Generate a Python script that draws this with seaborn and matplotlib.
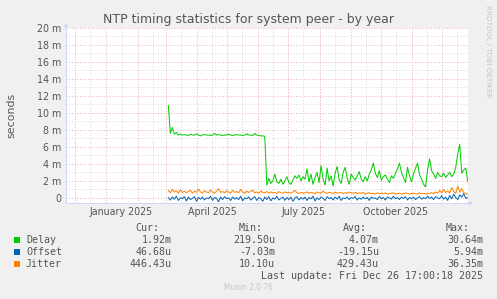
import numpy as np
import pandas as pd
import matplotlib
matplotlib.use("Agg")
import matplotlib.pyplot as plt
import matplotlib.dates as mdates
from matplotlib.patches import Rectangle
from matplotlib.ticker import FixedLocator, FuncFormatter
import seaborn as sns

# ---------------- data ----------------
series_names = ["Delay", "Offset", "Jitter"]
series_colors = ["#00CC00", "#0066B3", "#FF8000"]
start_date = "2025-03-03"
step = "2D"
view_start = "2024-11-21 17:00"
view_end = "2025-12-26 17:00"

delay_ms = [
    10.9, 7.6, 8.3, 7.5, 7.7, 7.4, 7.5, 7.4, 7.45, 7.4,
    7.35, 7.5, 7.4, 7.4, 7.55, 7.4, 7.3, 7.4, 7.45, 7.4,
    7.4, 7.35, 7.4, 7.6, 7.4, 7.45, 7.4, 7.35, 7.4, 7.4,
    7.5, 7.4, 7.35, 7.4, 7.45, 7.4, 7.4, 7.35, 7.4, 7.55,
    7.4, 7.4, 7.35, 7.6, 7.4, 7.35, 7.3, 7.3, 7.25, 1.5,
    2.3, 1.7, 2.0, 2.8, 1.9, 1.7, 2.2, 1.6, 2.0, 2.5,
    1.8, 1.6, 2.1, 2.6, 2.3, 2.7, 2.0, 2.5, 2.2, 3.4,
    1.9, 2.8, 1.6, 2.4, 3.0, 1.8, 3.8, 2.2, 1.5, 3.5,
    2.0, 2.6, 1.4, 2.9, 3.7, 2.1, 1.7, 3.0, 3.6, 2.3,
    1.6, 2.8, 2.4, 2.1, 2.6, 3.1, 2.2, 1.9, 2.5, 2.0,
    2.8, 3.3, 4.1, 2.9, 2.4, 3.2, 2.1, 2.5, 2.7, 2.2,
    1.8, 2.6, 2.3, 2.9, 3.4, 4.1, 3.0, 2.4, 1.8, 3.6,
    2.6, 1.9, 2.8, 3.5, 4.1, 2.7, 2.2, 1.6, 1.3, 3.3,
    4.6, 3.2, 2.8, 2.3, 3.0, 2.6, 2.5, 2.9, 2.4, 2.7,
    3.0, 2.5, 2.8, 3.6, 5.2, 6.3, 2.9, 3.3, 3.5, 1.92,
]

offset_ms = [
    0.05, -0.25, 0.1, -0.15, 0.2, -0.3, 0.0, -0.1, 0.15, -0.35,
    0.1, -0.2, -0.05, 0.15, -0.4, 0.05, -0.15, 0.1, -0.25, 0.0,
    -0.1, 0.2, -0.3, 0.05, -0.05, -0.45, 0.1, -0.2, 0.15, -0.1,
    0.0, -0.3, 0.1, -0.15, 0.05, -0.2, 0.2, -0.35, 0.0, -0.1,
    0.1, -0.25, -0.05, 0.15, -0.3, 0.05, -0.1, -0.4, 0.1, -0.2,
    0.15, -0.35, 0.0, -0.15, 0.2, -0.25, -0.05, 0.1, -0.3, 0.05,
    -0.2, 0.1, -0.4, 0.0, 0.15, -0.25, 0.05, -0.15, 0.1, -0.3,
    0.05, -0.1, 0.2, -0.35, 0.0, -0.2, 0.1, -0.05, -0.3, 0.15,
    -0.1, 0.05, -0.25, 0.1, -0.15, 0.2, -0.3, 0.0, -0.1, 0.1,
    -0.2, 0.05, -0.05, 0.15, -0.25, 0.0, -0.15, 0.1, -0.1, 0.05,
    -0.3, 0.1, -0.05, 0.0, -0.2, 0.15, -0.1, 0.05, -0.25, 0.1,
    0.0, -0.15, 0.2, -0.1, 0.05, -0.2, 0.1, -0.05, 0.15, -0.25,
    0.05, -0.1, 0.1, -0.2, 0.0, 0.15, -0.15, 0.05, -0.1, 0.2,
    -0.05, 0.1, -0.2, 0.15, 0.0, -0.1, 0.25, -0.15, 0.1, -0.3,
    0.3, -0.1, 0.45, 0.05, -0.2, 0.35, 0.1, 0.5, -0.05, 0.05,
]

jitter_ms = [
    0.9, 0.6, 1.0, 0.7, 0.85, 0.55, 0.95, 0.65, 0.8, 0.6,
    0.75, 0.9, 0.55, 0.8, 0.65, 1.05, 0.7, 0.6, 0.85, 0.7,
    0.6, 0.95, 0.7, 0.55, 0.8, 1.1, 0.65, 0.75, 0.6, 0.85,
    0.7, 0.55, 0.9, 0.65, 0.75, 0.6, 1.0, 0.7, 0.55, 0.8,
    0.65, 0.75, 0.9, 0.6, 0.7, 0.55, 0.8, 0.65, 0.6, 0.75,
    0.55, 0.7, 0.6, 0.65, 0.5, 0.75, 0.6, 0.55, 0.7, 0.6,
    0.65, 0.55, 0.7, 0.9, 0.6, 0.5, 0.65, 0.55, 0.6, 0.7,
    0.55, 0.65, 0.6, 0.5, 0.7, 0.6, 0.55, 0.8, 0.6, 0.55,
    0.65, 0.6, 0.5, 0.7, 0.55, 0.6, 0.65, 0.5, 0.6, 0.55,
    0.7, 0.6, 0.55, 0.65, 0.5, 0.6, 0.55, 0.65, 0.45, 0.55,
    0.6, 0.5, 0.55, 0.45, 0.6, 0.5, 0.55, 0.5, 0.6, 0.45,
    0.5, 0.55, 0.6, 0.45, 0.5, 0.55, 0.45, 0.5, 0.6, 0.5,
    0.45, 0.5, 0.55, 0.5, 0.45, 0.6, 0.5, 0.55, 0.45, 0.5,
    0.55, 0.6, 0.5, 0.7, 0.55, 0.9, 0.6, 1.0, 0.65, 0.8,
    0.6, 1.2, 0.75, 0.55, 1.4, 0.7, 1.1, 0.6, 0.5, 0.45,
]

legend_cur = ["1.92m", "46.68u", "446.43u"]
legend_min = ["219.50u", "-7.03m", "10.10u"]
legend_avg = ["4.07m", "-19.15u", "429.43u"]
legend_max = ["30.64m", "5.94m", "36.35m"]
legend_headers = ["Cur:", "Min:", "Avg:", "Max:"]

y_major = [0, 2, 4, 6, 8, 10, 12, 14, 16, 18, 20]
y_minor = [1, 3, 5, 7, 9, 11, 13, 15, 17, 19]
x_label_months = {1: "January 2025", 4: "April 2025", 7: "July 2025", 10: "October 2025"}

title = "NTP timing statistics for system peer - by year"
last_update = "Last update: Fri Dec 26 17:00:18 2025"

# ---------------- figure ----------------
W, H = 497, 299
DPI = 72
sns.set_style("white")
plt.rcParams["font.family"] = ["DejaVu Sans"]

fig = plt.figure(figsize=(W / DPI, H / DPI), dpi=DPI, facecolor="#F0F0F0")
ax_l, ax_r, ax_t, ax_b = 66, 468, 28, 203
ax = fig.add_axes([ax_l / W, 1 - ax_b / H, (ax_r - ax_l) / W, (ax_b - ax_t) / H])
ax.set_facecolor("white")

dates = pd.date_range(start_date, periods=len(delay_ms), freq=step) + pd.Timedelta(hours=12)
frames = []
for name, vals in zip(series_names, [delay_ms, offset_ms, jitter_ms]):
    frames.append(pd.DataFrame({"date": dates, "value": vals, "series": name}))
df = pd.concat(frames, ignore_index=True)

sns.lineplot(data=df, x="date", y="value", hue="series", hue_order=series_names,
             palette=dict(zip(series_names, series_colors)), linewidth=1.0,
             legend=False, ax=ax, zorder=3)

ax.set_xlim(pd.Timestamp(view_start), pd.Timestamp(view_end))
ax.set_ylim(-0.6, 20)
ax.set_xlabel("")
ax.set_ylabel("seconds", fontsize=11, color="#555555")
ax.yaxis.set_label_coords((16 - ax_l) / (ax_r - ax_l), 0.5)

# y ticks
ax.yaxis.set_major_locator(FixedLocator(y_major))
ax.yaxis.set_minor_locator(FixedLocator(y_minor))
ax.yaxis.set_major_formatter(FuncFormatter(lambda v, p: "0" if v == 0 else f"{v:g} m"))
# x ticks: month starts (major) and mid-month (minor)
ax.xaxis.set_major_locator(mdates.MonthLocator(bymonthday=1))
ax.xaxis.set_minor_locator(mdates.MonthLocator(bymonthday=16))
ax.xaxis.set_major_formatter(FuncFormatter(lambda v, p: ""))

def minor_fmt(v, p):
    d = mdates.num2date(v)
    return x_label_months.get(d.month, "") if d.year == 2025 else ""
ax.xaxis.set_minor_formatter(FuncFormatter(minor_fmt))

ax.tick_params(axis="y", which="major", length=2, width=1, color="#E8A0A0",
               labelsize=9.5, labelcolor="#555555", pad=3)
ax.tick_params(axis="y", which="minor", length=2, width=1, color="#D8D8D8")
ax.tick_params(axis="x", which="major", length=3, width=1, color="#E8A0A0")
ax.tick_params(axis="x", which="minor", length=2, width=1, color="#D8D8D8",
               labelsize=9.5, labelcolor="#555555", pad=2)

ax.grid(True, which="major", axis="both", color="#EBA4A4", linestyle=(0, (1, 2)), linewidth=0.9, zorder=1)
ax.grid(True, which="minor", axis="both", color="#D4D4D4", linestyle=(0, (1, 2)), linewidth=0.9, zorder=1)
ax.set_axisbelow(True)

for s in ["top", "right"]:
    ax.spines[s].set_visible(False)
for s in ["left", "bottom"]:
    ax.spines[s].set_color("#CFD6F8")
    ax.spines[s].set_linewidth(1)

# axis arrows
ax.annotate("", xy=(0, 1.04), xytext=(0, 0.99), xycoords="axes fraction",
            arrowprops=dict(arrowstyle="-|>", color="#CFD6F8", lw=1, mutation_scale=7),
            annotation_clip=False)
ax.annotate("", xy=(1.018, 0), xytext=(0.99, 0), xycoords="axes fraction",
            arrowprops=dict(arrowstyle="-|>", color="#CFD6F8", lw=1, mutation_scale=7),
            annotation_clip=False)

def fx(x):
    return x / W

def fy(y):
    return 1 - y / H

fig.text(fx(248.5), fy(19), title, ha="center", va="center", fontsize=12.5, color="#555555")
fig.text(fx(488), fy(5), "RRDTOOL / TOBI OETIKER", rotation=270, ha="center", va="top",
         fontsize=7.3, color="#C4C4C4")

mono = "DejaVu Sans Mono"
col_right = [172, 275, 379, 483]
head_right = [159, 263, 367, 470]
for hx, h in zip(head_right, legend_headers):
    fig.text(fx(hx), fy(228), h, ha="right", va="center", fontsize=10, family=mono, color="#555555")

row_y = [240, 252, 264]
for i, name in enumerate(series_names):
    y = row_y[i]
    fig.add_artist(Rectangle((fx(14), fy(y + 3)), 6 / W, 6 / H, transform=fig.transFigure,
                             facecolor=series_colors[i], edgecolor="none"))
    fig.text(fx(26), fy(y), name, ha="left", va="center", fontsize=10, family=mono, color="#555555")
    for cx, vals in zip(col_right, [legend_cur, legend_min, legend_avg, legend_max]):
        fig.text(fx(cx), fy(y), vals[i], ha="right", va="center", fontsize=10, family=mono, color="#555555")

fig.text(fx(483), fy(276), last_update, ha="right", va="center", fontsize=10, family=mono, color="#555555")
fig.text(fx(248), fy(288), "Munin 2.0.76", ha="center", va="center", fontsize=7.5, color="#C8C8C8")

fig.savefig("out.png", dpi=DPI, facecolor=fig.get_facecolor())
